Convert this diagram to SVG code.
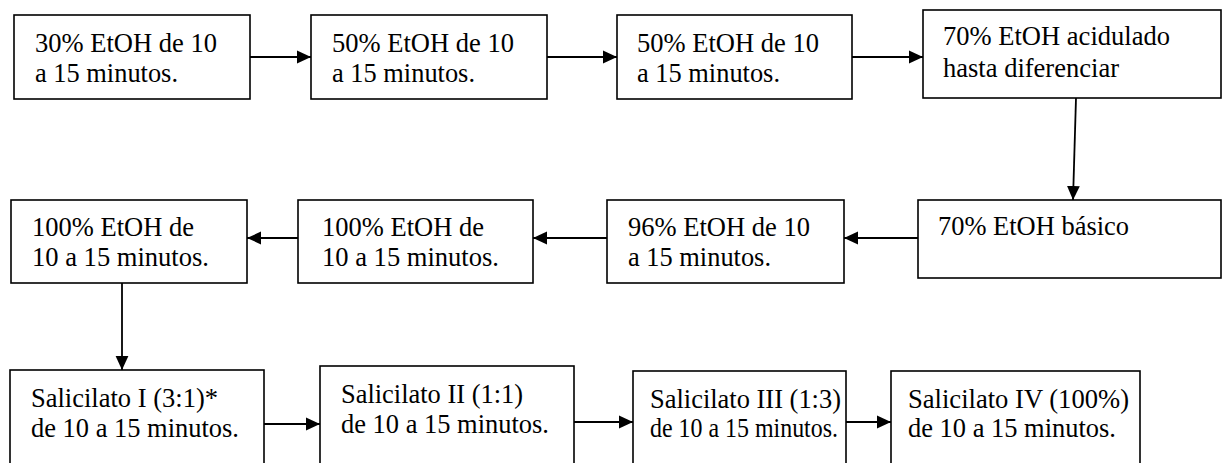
<svg xmlns="http://www.w3.org/2000/svg" width="1223" height="463" viewBox="0 0 1223 463">
  <style>
    .box { fill: #ffffff; stroke: #000000; stroke-width: 1.6; }
    .lbl { font-family: "Liberation Serif", "Times New Roman", Tinos, "DejaVu Serif", serif; font-size: 26.5px; fill: #000000; }
    .edge { fill: none; stroke: #000000; stroke-width: 1.8; marker-end: url(#arrow); }
  </style>
  <defs>
    <marker id="arrow" markerUnits="userSpaceOnUse" markerWidth="14" markerHeight="14" viewBox="0 0 14 14" refX="14" refY="7" orient="auto">
      <path d="M0,0.6 L14,7 L0,13.4 Z" fill="#000000"/>
    </marker>
  </defs>
  <rect width="1223" height="463" fill="#ffffff"/>

  <!-- connectors -->
  <g id="connectors">
    <line class="edge" x1="250" y1="57" x2="311" y2="57"/>
    <line class="edge" x1="547" y1="57" x2="617" y2="57"/>
    <line class="edge" x1="852" y1="57" x2="923" y2="57"/>
    <line class="edge" x1="1076" y1="98" x2="1073" y2="200"/>
    <line class="edge" x1="918" y1="238" x2="844" y2="238"/>
    <line class="edge" x1="607" y1="238" x2="533" y2="238"/>
    <line class="edge" x1="298" y1="238" x2="247" y2="238"/>
    <line class="edge" x1="122" y1="283" x2="122" y2="370"/>
    <line class="edge" x1="264" y1="424" x2="320" y2="424"/>
    <line class="edge" x1="574" y1="422" x2="633" y2="422"/>
    <line class="edge" x1="846" y1="422" x2="891" y2="422"/>
  </g>

  <!-- row 1 -->
  <g id="n1">
    <rect class="box" x="14" y="15" width="236" height="84"/>
    <text class="lbl" x="35" y="52" textLength="182" lengthAdjust="spacingAndGlyphs">30% EtOH de 10</text>
    <text class="lbl" x="35" y="82" textLength="143" lengthAdjust="spacingAndGlyphs">a 15 minutos.</text>
  </g>
  <g id="n2">
    <rect class="box" x="311" y="15" width="236" height="84"/>
    <text class="lbl" x="332" y="52" textLength="182" lengthAdjust="spacingAndGlyphs">50% EtOH de 10</text>
    <text class="lbl" x="332" y="82" textLength="143" lengthAdjust="spacingAndGlyphs">a 15 minutos.</text>
  </g>
  <g id="n3">
    <rect class="box" x="617" y="15" width="235" height="84"/>
    <text class="lbl" x="637" y="52" textLength="182" lengthAdjust="spacingAndGlyphs">50% EtOH de 10</text>
    <text class="lbl" x="637" y="82" textLength="143" lengthAdjust="spacingAndGlyphs">a 15 minutos.</text>
  </g>
  <g id="n4">
    <rect class="box" x="923" y="10" width="298" height="88"/>
    <text class="lbl" x="943" y="45" textLength="227" lengthAdjust="spacingAndGlyphs">70% EtOH acidulado</text>
    <text class="lbl" x="943" y="77" textLength="176" lengthAdjust="spacingAndGlyphs">hasta diferenciar</text>
  </g>

  <!-- row 2 -->
  <g id="n5">
    <rect class="box" x="918" y="200" width="303" height="78"/>
    <text class="lbl" x="938" y="235" textLength="191" lengthAdjust="spacingAndGlyphs">70% EtOH básico</text>
  </g>
  <g id="n6">
    <rect class="box" x="607" y="200" width="237" height="83"/>
    <text class="lbl" x="628" y="236" textLength="182" lengthAdjust="spacingAndGlyphs">96% EtOH de 10</text>
    <text class="lbl" x="628" y="266" textLength="143" lengthAdjust="spacingAndGlyphs">a 15 minutos.</text>
  </g>
  <g id="n7">
    <rect class="box" x="298" y="200" width="235" height="83"/>
    <text class="lbl" x="322" y="236" textLength="162" lengthAdjust="spacingAndGlyphs">100% EtOH de</text>
    <text class="lbl" x="322" y="266" textLength="177" lengthAdjust="spacingAndGlyphs">10 a 15 minutos.</text>
  </g>
  <g id="n8">
    <rect class="box" x="11" y="200" width="236" height="83"/>
    <text class="lbl" x="32" y="236" textLength="162" lengthAdjust="spacingAndGlyphs">100% EtOH de</text>
    <text class="lbl" x="32" y="266" textLength="177" lengthAdjust="spacingAndGlyphs">10 a 15 minutos.</text>
  </g>

  <!-- row 3 -->
  <g id="n9">
    <rect class="box" x="10" y="370" width="254" height="110"/>
    <text class="lbl" x="31" y="407" textLength="187" lengthAdjust="spacingAndGlyphs">Salicilato I (3:1)*</text>
    <text class="lbl" x="31" y="437" textLength="208" lengthAdjust="spacingAndGlyphs">de 10 a 15 minutos.</text>
  </g>
  <g id="n10">
    <rect class="box" x="320" y="366" width="254" height="114"/>
    <text class="lbl" x="341" y="403" textLength="182" lengthAdjust="spacingAndGlyphs">Salicilato II (1:1)</text>
    <text class="lbl" x="341" y="433" textLength="208" lengthAdjust="spacingAndGlyphs">de 10 a 15 minutos.</text>
  </g>
  <g id="n11">
    <rect class="box" x="633" y="371" width="213" height="109"/>
    <text class="lbl" x="650" y="408" textLength="191" lengthAdjust="spacingAndGlyphs">Salicilato III (1:3)</text>
    <text class="lbl" x="650" y="437" textLength="188" lengthAdjust="spacingAndGlyphs">de 10 a 15 minutos.</text>
  </g>
  <g id="n12">
    <rect class="box" x="891" y="371" width="249" height="109"/>
    <text class="lbl" x="908" y="408" textLength="221" lengthAdjust="spacingAndGlyphs">Salicilato IV (100%)</text>
    <text class="lbl" x="908" y="437" textLength="208" lengthAdjust="spacingAndGlyphs">de 10 a 15 minutos.</text>
  </g>
</svg>
